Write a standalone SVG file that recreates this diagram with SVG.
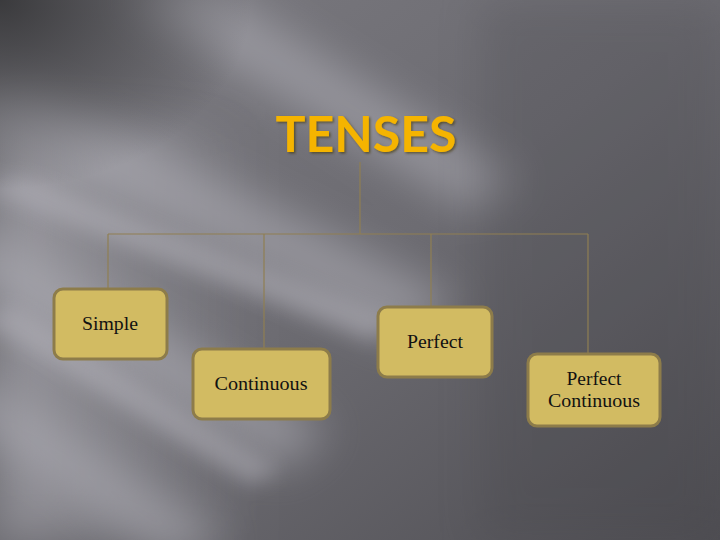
<svg xmlns="http://www.w3.org/2000/svg" width="720" height="540" viewBox="0 0 720 540">
<defs>
<linearGradient id="bg" x1="0" y1="0" x2="1" y2="1">
<stop offset="0" stop-color="#7c7b81"/>
<stop offset="0.5" stop-color="#6c6b71"/>
<stop offset="1" stop-color="#4f4e53"/>
</linearGradient>
<linearGradient id="leftlight" x1="0" y1="0" x2="1" y2="0">
<stop offset="0" stop-color="#b3b2b9" stop-opacity="0.55"/>
<stop offset="1" stop-color="#b3b2b9" stop-opacity="0"/>
</linearGradient>
<radialGradient id="corner" cx="0" cy="0" r="1">
<stop offset="0" stop-color="#2f2f31" stop-opacity="0.85"/>
<stop offset="1" stop-color="#2f2f31" stop-opacity="0"/>
</radialGradient>
<filter id="blur" x="-50%" y="-50%" width="200%" height="200%"><feGaussianBlur stdDeviation="22"/></filter>
<filter id="blur2" x="-50%" y="-50%" width="200%" height="200%"><feGaussianBlur stdDeviation="10"/></filter>
<filter id="shadow" x="-10%" y="-10%" width="130%" height="130%"><feDropShadow dx="1.5" dy="1.5" stdDeviation="0.8" flood-color="#3a3000" flood-opacity="0.6"/></filter>
</defs>
<style>
.box{fill:#d2bb62;stroke:#8d7c4a;stroke-width:3}
.lbl{font-family:"Liberation Serif","DejaVu Serif",serif;font-size:18.5px;fill:#111;text-anchor:middle}
.con{stroke:#8f7f52;stroke-width:1.2;fill:none}
</style>
<rect width="720" height="540" fill="url(#bg)"/>
<rect x="0" y="120" width="260" height="420" fill="url(#leftlight)" filter="url(#blur)"/>
<g filter="url(#blur)" fill="#aeadb5" opacity="0.6">
<polygon points="-60,110 20,80 460,300 400,340"/>
<polygon points="-60,260 -10,230 330,430 280,470"/>
<polygon points="-60,400 -20,380 230,540 170,560"/>
<polygon points="120,0 200,-20 520,180 470,210"/>
</g>
<g filter="url(#blur2)" fill="#b9b8c0" opacity="0.45">
<polygon points="-20,190 20,175 400,320 370,340"/>
<polygon points="-20,320 10,305 280,470 250,485"/>
</g>
<rect width="720" height="540" fill="url(#corner)" transform="scale(0.35 0.35)"/>
<rect x="480" y="0" width="240" height="540" fill="#3e3d42" opacity="0.2" filter="url(#blur)"/>
<g id="connectors">
<path class="con" d="M360,162 V234"/>
<path class="con" d="M108,234 H588"/>
<path class="con" d="M108,234 V288"/>
<path class="con" d="M264,234 V348"/>
<path class="con" d="M431,234 V306"/>
<path class="con" d="M588,234 V353"/>
</g>
<g id="tenses">
<text x="366" y="152" font-family="Lato,'Open Sans',sans-serif" font-weight="bold" font-size="49" fill="#f5b400" text-anchor="middle" textLength="181" lengthAdjust="spacingAndGlyphs" filter="url(#shadow)">TENSES</text>
</g>
<g id="simple">
<rect class="box" x="54" y="289" width="113" height="70" rx="9"/>
<text class="lbl" x="110" y="330" textLength="56" lengthAdjust="spacingAndGlyphs">Simple</text>
</g>
<g id="continuous">
<rect class="box" x="193" y="349" width="137" height="70" rx="9"/>
<text class="lbl" x="261" y="390" textLength="93" lengthAdjust="spacingAndGlyphs">Continuous</text>
</g>
<g id="perfect">
<rect class="box" x="378" y="307" width="114" height="70" rx="9"/>
<text class="lbl" x="435" y="348" textLength="56" lengthAdjust="spacingAndGlyphs">Perfect</text>
</g>
<g id="perfect-continuous">
<rect class="box" x="528" y="354" width="132" height="72" rx="9"/>
<text class="lbl" x="594" y="385" textLength="55" lengthAdjust="spacingAndGlyphs">Perfect</text>
<text class="lbl" x="594" y="407" textLength="92" lengthAdjust="spacingAndGlyphs">Continuous</text>
</g>
</svg>
